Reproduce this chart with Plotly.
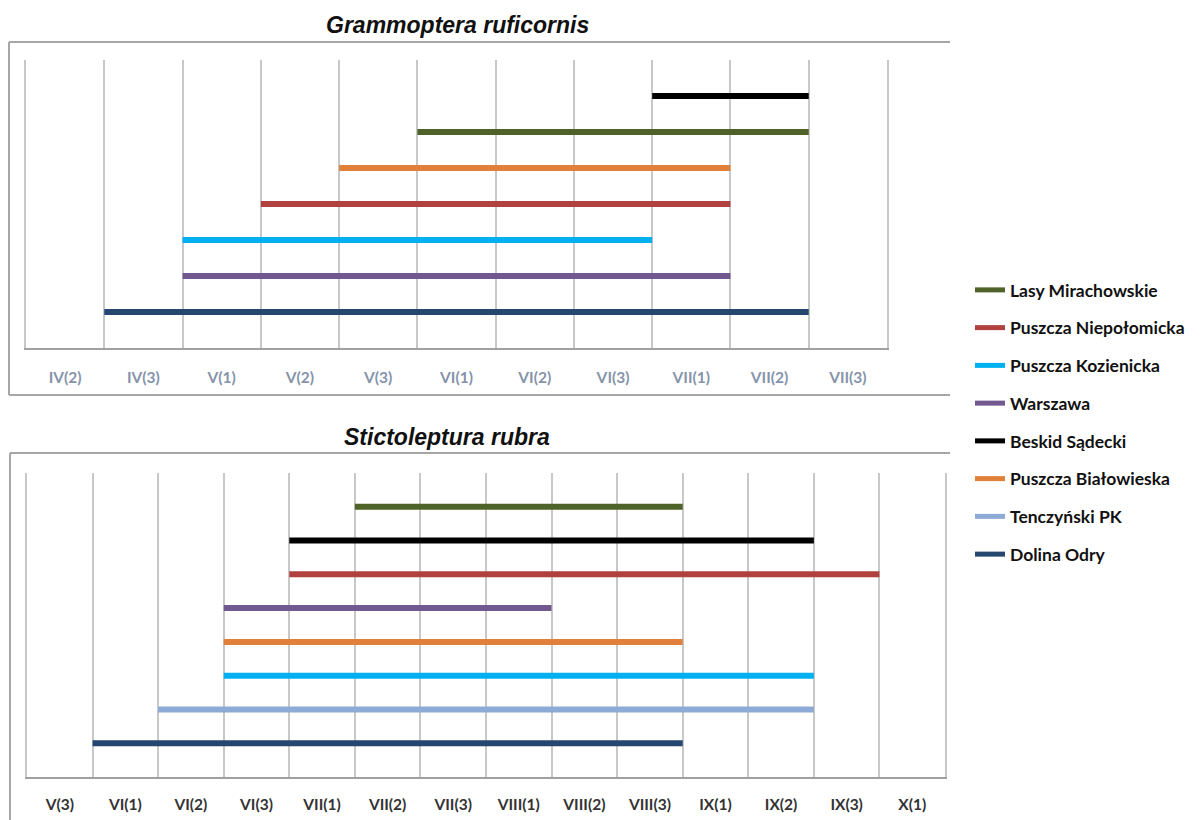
import plotly.graph_objects as go

# Decade labels along each time axis
cats_top = ["IV(2)", "IV(3)", "V(1)", "V(2)", "V(3)", "VI(1)", "VI(2)",
            "VI(3)", "VII(1)", "VII(2)", "VII(3)"]
cats_bottom = ["V(3)", "VI(1)", "VI(2)", "VI(3)", "VII(1)", "VII(2)", "VII(3)",
               "VIII(1)", "VIII(2)", "VIII(3)", "IX(1)", "IX(2)", "IX(3)", "X(1)"]

# Flight periods (first decade, last decade), listed bottom row first
top_sites = ["Dolina Odry", "Warszawa", "Puszcza Kozienicka", "Puszcza Niepołomicka",
             "Puszcza Białowieska", "Lasy Mirachowskie", "Beskid Sądecki"]
top_start = ["IV(3)", "V(1)", "V(1)", "V(2)", "V(3)", "VI(1)", "VII(1)"]
top_end = ["VII(2)", "VII(1)", "VI(3)", "VII(1)", "VII(1)", "VII(2)", "VII(2)"]

bottom_sites = ["Dolina Odry", "Tenczyński PK", "Puszcza Kozienicka", "Puszcza Białowieska",
                "Warszawa", "Puszcza Niepołomicka", "Beskid Sądecki", "Lasy Mirachowskie"]
bottom_start = ["VI(1)", "VI(2)", "VI(3)", "VI(3)", "VI(3)", "VII(1)", "VII(1)", "VII(2)"]
bottom_end = ["VIII(3)", "IX(2)", "IX(2)", "VIII(3)", "VIII(1)", "IX(3)", "IX(2)", "VIII(3)"]

legend_order = ["Lasy Mirachowskie", "Puszcza Niepołomicka", "Puszcza Kozienicka", "Warszawa",
                "Beskid Sądecki", "Puszcza Białowieska", "Tenczyński PK", "Dolina Odry"]
colors = {
    "Lasy Mirachowskie": "#4f6228",
    "Puszcza Niepołomicka": "#b0413e",
    "Puszcza Kozienicka": "#00b0f0",
    "Warszawa": "#71588f",
    "Beskid Sądecki": "#000000",
    "Puszcza Białowieska": "#e0803a",
    "Tenczyński PK": "#8eaad6",
    "Dolina Odry": "#24466f",
}

W, H = 1202, 820


def px(x):
    return x / W


def py(y):
    return 1 - y / H


fig = go.Figure()


def add_panel(sites, starts, ends, cats, xa, ya, width):
    for i, (s, a, b) in enumerate(zip(sites, starts, ends)):
        x0 = cats.index(a)
        x1 = cats.index(b) + 1
        fig.add_trace(go.Scatter(
            x=[x0, x1], y=[i + 1, i + 1], mode="lines",
            line=dict(color=colors[s], width=width),
            name=s, legendgroup=s, showlegend=False,
            xaxis=xa, yaxis=ya, hoverinfo="name",
        ))


add_panel(top_sites, top_start, top_end, cats_top, "x", "y", 6)
add_panel(bottom_sites, bottom_start, bottom_end, cats_bottom, "x2", "y2", 6)

# Legend entries in the order of the key
for s in legend_order:
    fig.add_trace(go.Scatter(
        x=[None], y=[None], mode="lines", line=dict(color=colors[s], width=5),
        name=s, legendgroup=s, showlegend=True, xaxis="x2", yaxis="y2",
    ))

grid_col = "#c8c8c8"


def xaxis_cfg(cats, domain, anchor, label_color, standoff):
    n = len(cats)
    return dict(
        domain=domain, anchor=anchor, range=[0, n],
        tickmode="array", tickvals=[i + 0.5 for i in range(n)], ticktext=cats,
        showgrid=False, zeroline=False,
        ticks="outside", ticklen=standoff, tickcolor="rgba(0,0,0,0)",
        tickfont=dict(family="Lato", size=15.5, color=label_color, weight="bold"),
        showline=True, linecolor="#a0a0a0", linewidth=2,
        minor=dict(tickmode="linear", tick0=0, dtick=1, showgrid=True,
                   gridcolor=grid_col, gridwidth=2, ticks=""),
        fixedrange=True,
    )


def yaxis_cfg(nrows, domain, anchor):
    return dict(
        domain=domain, anchor=anchor, range=[0, nrows],
        showgrid=False, zeroline=False, showticklabels=False, ticks="",
        showline=True, linecolor=grid_col, linewidth=2, mirror=True,
        fixedrange=True,
    )


fig.update_layout(
    width=W, height=H,
    margin=dict(l=0, r=0, t=0, b=0),
    paper_bgcolor="white", plot_bgcolor="white",
    xaxis=xaxis_cfg(cats_top, [px(26), px(887)], "y", "#8593ab", 14),
    yaxis=yaxis_cfg(8, [py(348), py(60)], "x"),
    xaxis2=xaxis_cfg(cats_bottom, [px(27), px(945)], "y2", "#333333", 12),
    yaxis2=yaxis_cfg(9, [py(777), py(473)], "x2"),
    legend=dict(
        x=px(970), y=py(272), xanchor="left", yanchor="top",
        font=dict(family="Lato", size=17.5, color="#111111", weight="bold"),
        tracegroupgap=12, itemwidth=30, bgcolor="rgba(0,0,0,0)",
    ),
    showlegend=True,
)

frame_col = "#a6a6a6"
# Chart frames: top and left edges (plus bottom edge of the upper chart)
for x0, y0, x1, y1 in [
    (9, 42, 950, 42), (9, 42, 9, 395), (9, 395, 950, 395),
    (10, 453, 950, 453), (10, 453, 10, 820),
]:
    fig.add_shape(type="line", xref="paper", yref="paper",
                  x0=px(x0), y0=py(y0), x1=px(x1), y1=py(y1),
                  line=dict(color=frame_col, width=2))

title_font = dict(family="Liberation Sans", size=23, color="#111111",
                  weight="bold", style="italic")
fig.add_annotation(text="Grammoptera ruficornis", xref="paper", yref="paper",
                   x=px(457), y=py(25), showarrow=False, font=title_font,
                   xanchor="center", yanchor="middle")
fig.add_annotation(text="Stictoleptura rubra", xref="paper", yref="paper",
                   x=px(447), y=py(437), showarrow=False, font=title_font,
                   xanchor="center", yanchor="middle")

fig.write_html("out.html")
